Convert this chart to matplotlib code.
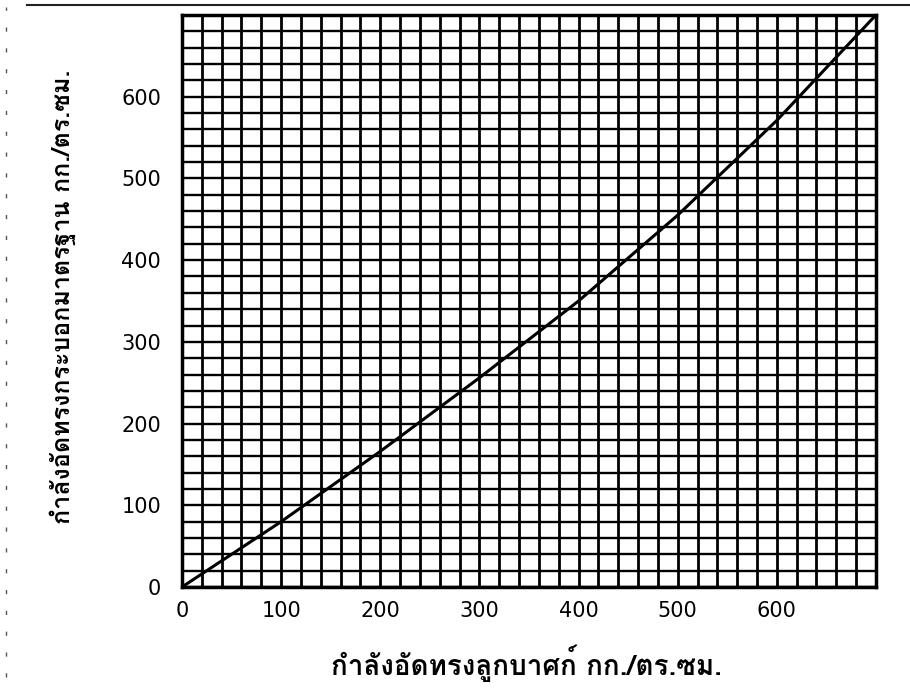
import matplotlib
matplotlib.use('Agg')
import matplotlib.pyplot as plt
from matplotlib import font_manager
from matplotlib.ft2font import FT2Font
from matplotlib.lines import Line2D
import numpy as np

# data
cube_strength = [0, 100, 200, 300, 400, 500, 600, 700]
cylinder_strength = [0, 80, 166, 256, 350, 455, 571, 700]
tick_values = [0, 100, 200, 300, 400, 500, 600]
x_label = 'กำลังอัดทรงลูกบาศก์ กก./ตร.ซม.'
y_label = 'กำลังอัดทรงกระบอกมาตรฐาน กก./ตร.ซม.'
axis_max = 700
grid_step = 20


def find_thai_font():
    # first installed family that has Thai glyphs
    for f in font_manager.fontManager.ttflist:
        try:
            if 0x0E01 in FT2Font(f.fname).get_charmap():
                return f.name
        except Exception:
            pass
    return 'DejaVu Sans'


thai_font = find_thai_font()

fig = plt.figure(figsize=(9.1, 6.91), dpi=100)
ax = fig.add_axes([0.2, 0.1505, 0.7626, 0.8278])

# graph-paper grid
for v in np.arange(0, axis_max + 1, grid_step):
    ax.axvline(v, color='black', lw=2.0, zorder=1)
    ax.axhline(v, color='black', lw=1.7, zorder=1)

ax.plot(cube_strength, cylinder_strength, color='black', lw=2.2, zorder=3)

ax.set_xlim(0, axis_max)
ax.set_ylim(0, axis_max)
ax.set_xticks(tick_values)
ax.set_yticks(tick_values)
ax.tick_params(length=0, labelsize=15)
ax.tick_params(axis='x', pad=10)
ax.tick_params(axis='y', pad=15)
for s in ax.spines.values():
    s.set_linewidth(2.5)

fig.text(0.579, 1 - 663 / 691, x_label, ha='center', va='center',
         fontsize=20, weight='bold', family=[thai_font, 'DejaVu Sans'])
fig.text(63 / 910, 1 - 297 / 691, y_label, ha='center', va='center',
         rotation=90, fontsize=18, weight='bold', family=[thai_font, 'DejaVu Sans'])

# scan edge marks
fig.add_artist(Line2D([0.03, 1.0], [1 - 5 / 691] * 2, color='#222222', lw=1.5))
fig.add_artist(Line2D([6 / 910] * 2, [0.02, 0.99], color='#555555', lw=1.0,
                      linestyle=(0, (3, 12))))

fig.savefig('out.png', dpi=100)
